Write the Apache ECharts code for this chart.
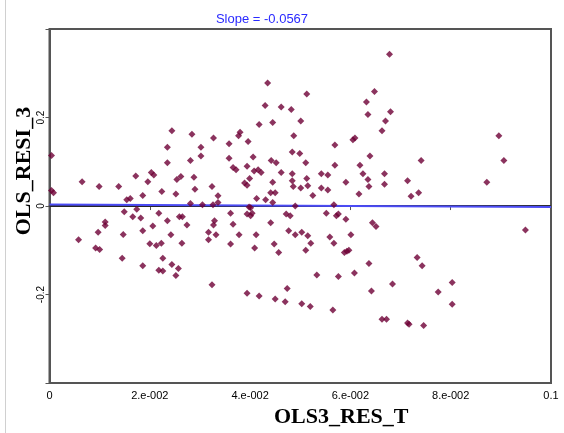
<!DOCTYPE html>
<html>
<head>
<meta charset="utf-8">
<script src="https://cdn.jsdelivr.net/npm/echarts@6/dist/echarts.min.js"></script>
<style>
  html, body { margin: 0; padding: 0; background: #fff; }
  #chart { width: 564px; height: 433px; }
</style>
</head>
<body>
<div id="chart"></div>
<script>
// residual scatter: OLS3_RES_T vs OLS_RESI_3
const points = [
  [0.0004, 0.114], [0.0004, 0.035], [0.0008, 0.030], [0.0065, 0.055], [0.0099, 0.044],
  [0.0138, 0.044], [0.0172, 0.068], [0.0203, 0.076], [0.0208, 0.070], [0.0196, 0.055],
  [0.0224, 0.033], [0.0186, 0.024], [0.0154, 0.014], [0.0161, 0.017], [0.0149, -0.013],
  [0.0174, -0.007], [0.0166, -0.024], [0.0182, -0.027], [0.0218, -0.016], [0.0111, -0.036],
  [0.0111, -0.044], [0.0097, -0.059], [0.0058, -0.076], [0.0147, -0.064], [0.0186, -0.056],
  [0.0206, -0.045], [0.0092, -0.095], [0.0100, -0.098], [0.0200, -0.085], [0.0213, -0.089],
  [0.0223, -0.084], [0.0145, -0.118], [0.0186, -0.135], [0.0218, -0.145], [0.0226, -0.147],
  [0.0226, -0.118],
  [0.0435, 0.278], [0.0430, 0.227], [0.0418, 0.184], [0.0445, 0.189], [0.0244, 0.170],
  [0.0284, 0.162], [0.0327, 0.154], [0.0380, 0.167], [0.0377, 0.159], [0.0358, 0.141],
  [0.0396, 0.146], [0.0235, 0.133], [0.0302, 0.133], [0.0302, 0.113], [0.0235, 0.098],
  [0.0281, 0.103], [0.0358, 0.108], [0.0406, 0.111], [0.0442, 0.103], [0.0452, 0.098],
  [0.0366, 0.087], [0.0372, 0.082], [0.0394, 0.090], [0.0408, 0.079], [0.0416, 0.082],
  [0.0422, 0.076], [0.0254, 0.060], [0.0262, 0.067], [0.0288, 0.065], [0.0399, 0.062],
  [0.0389, 0.052], [0.0394, 0.047], [0.0445, 0.054], [0.0252, 0.027], [0.0290, 0.038],
  [0.0324, 0.044], [0.0336, 0.023], [0.0336, 0.008], [0.0281, 0.006], [0.0305, 0.003],
  [0.0326, 0.003], [0.0413, 0.017], [0.0431, 0.014], [0.0441, 0.030], [0.0450, 0.030],
  [0.0445, 0.008], [0.0398, -0.002], [0.0401, -0.004], [0.0394, -0.018], [0.0401, -0.022],
  [0.0404, -0.016], [0.0235, -0.033], [0.0259, -0.024], [0.0265, -0.024], [0.0274, -0.043],
  [0.0329, -0.033], [0.0327, -0.043], [0.0361, -0.016], [0.0366, -0.041], [0.0441, -0.038],
  [0.0317, -0.059], [0.0332, -0.065], [0.0317, -0.076], [0.0242, -0.065], [0.0378, -0.065],
  [0.0412, -0.065], [0.0264, -0.084], [0.0361, -0.086], [0.0409, -0.095], [0.0448, -0.086],
  [0.0457, -0.105], [0.0244, -0.132], [0.0257, -0.141], [0.0252, -0.157], [0.0324, -0.178],
  [0.0394, -0.197], [0.0418, -0.203], [0.0450, -0.210],
  [0.0678, 0.343], [0.0513, 0.253], [0.0648, 0.259], [0.0462, 0.224], [0.0482, 0.218],
  [0.0632, 0.235], [0.0635, 0.207], [0.0680, 0.213], [0.0501, 0.192], [0.0670, 0.192],
  [0.0663, 0.170], [0.0487, 0.159], [0.0609, 0.154], [0.0605, 0.150], [0.0569, 0.138],
  [0.0484, 0.122], [0.0499, 0.119], [0.0639, 0.113], [0.0511, 0.098], [0.0569, 0.092],
  [0.0619, 0.092], [0.0462, 0.076], [0.0484, 0.073], [0.0542, 0.073], [0.0555, 0.070],
  [0.0625, 0.073], [0.0668, 0.073], [0.0484, 0.057], [0.0513, 0.062], [0.0591, 0.054],
  [0.0635, 0.060], [0.0486, 0.044], [0.0501, 0.041], [0.0515, 0.046], [0.0542, 0.041],
  [0.0555, 0.036], [0.0637, 0.044], [0.0668, 0.049], [0.0525, 0.024], [0.0617, 0.027],
  [0.0490, 0.000], [0.0567, 0.003], [0.0472, -0.018], [0.0480, -0.022], [0.0552, -0.016],
  [0.0572, -0.022], [0.0576, -0.018], [0.0591, -0.030], [0.0644, -0.038], [0.0651, -0.046],
  [0.0477, -0.056], [0.0490, -0.065], [0.0503, -0.059], [0.0515, -0.067], [0.0521, -0.084],
  [0.0511, -0.100], [0.0559, -0.070], [0.0567, -0.084], [0.0601, -0.065], [0.0588, -0.105],
  [0.0593, -0.102], [0.0597, -0.100], [0.0637, -0.130], [0.0533, -0.156], [0.0576, -0.159],
  [0.0608, -0.151], [0.0684, -0.176], [0.0474, -0.186], [0.0642, -0.192], [0.0470, -0.216],
  [0.0503, -0.221], [0.0520, -0.227], [0.0565, -0.235], [0.0663, -0.256], [0.0672, -0.256],
  [0.0896, 0.159], [0.0741, 0.103], [0.0906, 0.103], [0.0714, 0.057], [0.0872, 0.054],
  [0.0721, 0.022], [0.0736, 0.030], [0.0733, -0.116], [0.0743, -0.135], [0.0803, -0.173],
  [0.0775, -0.194], [0.0803, -0.222], [0.0714, -0.264], [0.0717, -0.267], [0.0746, -0.270],
  [0.0949, -0.054]
];

const xTickLabels = ["0", "2.e-002", "4.e-002", "6.e-002", "8.e-002", "0.1"];
const yTickLabels = ["", "-0.2", "0", "0.2", ""];

const slope = -0.0567;
const intercept = 0.0035;
const fitLine = [[0, intercept], [0.1, intercept + slope * 0.1]];

const chart = echarts.init(document.getElementById("chart"));

const options = {
  animation: false,
  title: {
    text: "Slope = " + slope,
    left: 257,
    top: 8,
    textAlign: "center",
    textStyle: {
      color: "#2a2aff",
      fontSize: 13,
      fontWeight: "normal",
      fontFamily: "Liberation Sans",
    },
  },
  graphic: [
    {
      type: "line",
      shape: { x1: 5.5, y1: 0, x2: 5.5, y2: 433 },
      style: { stroke: "#d0d0d0", lineWidth: 1 },
    },
  ],
  grid: {
    left: 49.5,
    right: 13,
    top: 29,
    bottom: 44,
    show: true,
    borderColor: "#555",
    borderWidth: 2,
  },
  xAxis: {
    type: "value",
    min: 0,
    max: 0.1,
    interval: 0.02,
    name: "OLS3_RES_T",
    nameLocation: "middle",
    nameGap: 18,
    nameTextStyle: {
      fontFamily: "Liberation Serif",
      fontWeight: "bold",
      fontSize: 22,
      color: "#000",
      padding: [0, 0, 0, 82],
    },
    splitLine: { show: false },
    axisLine: { lineStyle: { color: "#555", width: 2 } },
    axisTick: { length: 4, lineStyle: { color: "#555" } },
    axisLabel: {
      fontSize: 11,
      color: "#000",
      fontFamily: "Liberation Sans",
      margin: 7,
      formatter: (v) => xTickLabels[Math.round(v / 0.02)],
    },
  },
  yAxis: {
    type: "value",
    min: -0.4,
    max: 0.4,
    interval: 0.2,
    name: "OLS_RESI_3",
    nameLocation: "middle",
    nameGap: 14,
    nameMoveOverlap: false,
    nameTextStyle: {
      fontFamily: "Liberation Serif",
      fontWeight: "bold",
      fontSize: 22,
      color: "#000",
      padding: [0, 0, 0, 70],
    },
    splitLine: { show: false },
    axisLine: { lineStyle: { color: "#555", width: 2 } },
    axisTick: { length: 4, lineStyle: { color: "#555" } },
    axisLabel: {
      fontSize: 10,
      color: "#000",
      fontFamily: "Liberation Sans",
      rotate: 90,
      margin: 3,
      formatter: (v) => yTickLabels[Math.round((v + 0.4) / 0.2)],
    },
  },
  series: [
    {
      type: "line",
      data: [[0, 0], [0.1, 0]],
      symbol: "none",
      lineStyle: { color: "#000", width: 1 },
      z: 1,
    },
    {
      type: "line",
      data: fitLine,
      symbol: "none",
      lineStyle: { color: "#4b4bf5", width: 2 },
      z: 2,
    },
    {
      type: "scatter",
      data: points,
      symbol: "diamond",
      symbolSize: 7,
      itemStyle: { color: "#6e0036" },
      z: 3,
    },
  ],
};

chart.setOption(options);
</script>
</body>
</html>
